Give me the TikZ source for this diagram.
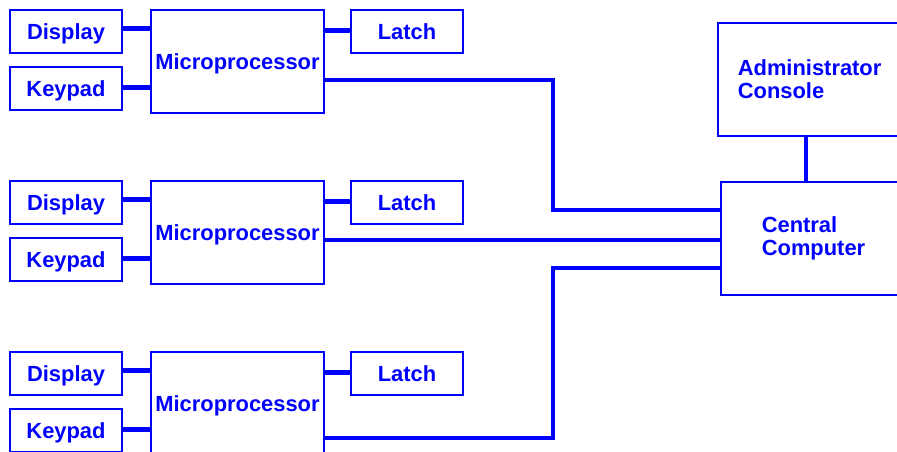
\documentclass[tikz,border=0pt]{standalone}
\usepackage{fontspec}
\setmainfont{Liberation Sans}
\usepackage{tikz}
\usetikzlibrary{positioning}
\definecolor{wire}{RGB}{0,0,255}

\begin{document}
\begin{tikzpicture}[x=0.5pt, y=-0.5pt,
    frame/.style={draw=wire, line width=0.8pt, text=wire, font=\bfseries\fontsize{10.95}{11.5}\selectfont, inner sep=2pt},
    box/.style={frame, text height=8pt, text depth=0.5pt, minimum width=56pt, minimum height=21.5pt},
    cpu/.style={box, text depth=0pt, minimum width=86.5pt, minimum height=51.5pt},
    host/.style={frame, anchor=north west, align=left, text width=80pt, inner xsep=#1, minimum height=56.5pt},
    bus/.style={draw=wire, line width=2.2pt}]
    % Khung trang
    \useasboundingbox (0,0) rectangle (897,451);
    \clip (0,0) rectangle (897,451);

    % Nhom 1
    \node[box] (disp1) at (66,31.5) {Display};
    \node[box] (key1) at (66,88.5) {Keypad};
    \node[cpu] (mp1) at (237.5,61.5) {Microprocessor};
    \node[box] (latch1) at (407,31.5) {Latch};

    % Nhom 2
    \node[box] (disp2) at (66,202.5) {Display};
    \node[box] (key2) at (66,259.5) {Keypad};
    \node[cpu] (mp2) at (237.5,232.5) {Microprocessor};
    \node[box] (latch2) at (407,202.5) {Latch};

    % Nhom 3
    \node[box] (disp3) at (66,373.5) {Display};
    \node[box] (key3) at (66,430.5) {Keypad};
    \node[cpu] (mp3) at (237.5,403.5) {Microprocessor};
    \node[box] (latch3) at (407,373.5) {Latch};

    % May trung tam va console
    \node[host=20.5pt] (central) at (720,181) {Central\\Computer};
    \node[host=10pt] (admin) at (717,22) {Administrator\\Console};

    % Noi Display, Keypad, Latch voi Microprocessor
    \draw[bus] ([yshift=1.5pt]disp1.east) -- ([yshift=1.5pt]disp1.east -| mp1.west);
    \draw[bus] ([yshift=0.5pt]key1.east) -- ([yshift=0.5pt]key1.east -| mp1.west);
    \draw[bus] ([yshift=0.5pt]latch1.west) -- ([yshift=0.5pt]latch1.west -| mp1.east);
    \draw[bus] ([yshift=1.5pt]disp2.east) -- ([yshift=1.5pt]disp2.east -| mp2.west);
    \draw[bus] ([yshift=0.5pt]key2.east) -- ([yshift=0.5pt]key2.east -| mp2.west);
    \draw[bus] ([yshift=0.5pt]latch2.west) -- ([yshift=0.5pt]latch2.west -| mp2.east);
    \draw[bus] ([yshift=1.5pt]disp3.east) -- ([yshift=1.5pt]disp3.east -| mp3.west);
    \draw[bus] ([yshift=0.5pt]key3.east) -- ([yshift=0.5pt]key3.east -| mp3.west);
    \draw[bus] ([yshift=0.5pt]latch3.west) -- ([yshift=0.5pt]latch3.west -| mp3.east);

    % Duong bus toi Central Computer
    \coordinate (j1) at (553,80);
    \coordinate (j1b) at (553,210);
    \coordinate (j2) at (553,240);
    \coordinate (j3) at (553,438);
    \coordinate (j3b) at (553,268);
    \coordinate (j4) at (806,160);
    \draw[bus] (mp1.east |- j1) -- (j1) -- (j1b) -- (central.west |- j1b);
    \draw[bus] (mp2.east |- j2) -- (central.west |- j2);
    \draw[bus] (mp3.east |- j3) -- (j3) -- (j3b) -- (central.west |- j3b);
    \draw[bus] (admin.south -| j4) -- (central.north -| j4);
\end{tikzpicture}
\end{document}
